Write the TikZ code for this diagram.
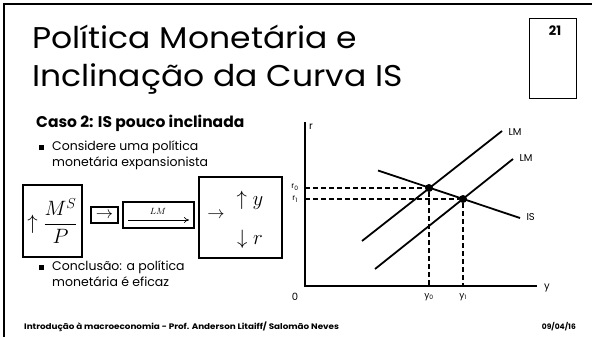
\documentclass[tikz,border=0pt]{standalone}
\usepackage{amsmath}
\usepackage{fontspec}
\setmainfont{Poppins}
\newfontfamily\widefont[FakeStretch=1.1]{Poppins}
\usetikzlibrary{arrows.meta}
\begin{document}
\begin{tikzpicture}[x=1pt,y=-1pt,
  boxed/.style={draw,line width=1.6pt,inner sep=0pt},
  curve/.style={line width=1.8pt},
  guide/.style={dashed,line width=1.2pt,dash pattern=on 5pt off 3pt},
  lab/.style={font=\fontsize{10}{12}\selectfont},
  titl/.style={anchor=base west,font=\widefont\fontsize{30}{34}\selectfont,inner sep=0pt},
  bul/.style={font=\fontsize{12.5}{16}\selectfont,anchor=base west,inner sep=0pt},
  sq/.style={anchor=base west,inner sep=0pt},
  dot/.style={circle,fill,inner sep=0pt,minimum size=8pt}]
\useasboundingbox (0,0) rectangle (592,337);
% slide frame
\draw[line width=2.2pt] (4,337) -- (4,4) -- (592,4);
% title
\node[titl] (title1) at (32,49) {Política Monetária e};
\node[titl] (title2) at (32,87) {Inclinação da Curva IS};
% page number box
\node[draw,line width=0.8pt,minimum width=47pt,minimum height=80pt,anchor=north west,inner sep=0pt] (pg) at (529,18) {};
\node[font=\bfseries\fontsize{13}{15}\selectfont] (pgn) at (555,31) {21};
% left texts
\node[anchor=base west,font=\bfseries\fontsize{15.5}{17}\selectfont,inner sep=0pt] (caso) at (36,128) {Caso 2: IS pouco inclinada};
\node[sq] (b1) at (39,150) {\rule{5pt}{5pt}};
\node[bul] (t1a) at (52,150) {Considere uma política};
\node[bul] (t1b) at (52,166) {monetária expansionista};
\node[sq] (b2) at (39,270) {\rule{5pt}{5pt}};
\node[bul] (t2a) at (52,270) {Conclusão: a política};
\node[bul] (t2b) at (52,286) {monetária é eficaz};
% flow boxes
\node[boxed,minimum width=59pt,minimum height=72pt] (bx1) at (52.5,221) {\fontsize{21}{24}\selectfont$\uparrow\dfrac{M^S}{P}$};
\node[boxed,minimum width=27pt,minimum height=16pt] (bx2) at (104.5,215) {\fontsize{16}{18}\selectfont$\rightarrow$};
\node[boxed,minimum width=71pt,minimum height=26pt] (bx3) at (158.5,215) {};
\coordinate (a3s) at (128,220);
\coordinate (a3e) at (189,220);
\draw[line width=0.7pt,-{To[length=5pt,width=6pt]}] (a3s) -- (a3e);
\node[font=\fontsize{9}{10}\selectfont,inner sep=1pt] (lm3) at (158,211) {$LM$};
\node[boxed,minimum width=83pt,minimum height=81pt] (bx4) at (240.5,217.5) {};
\node[font=\fontsize{18}{20}\selectfont] (ar4) at (216,215) {$\rightarrow$};
\node[font=\fontsize{20}{22}\selectfont] (uy) at (250,200) {$\uparrow y$};
\node[font=\fontsize{20}{22}\selectfont] (dr) at (250,239) {$\downarrow r$};
% graph
\coordinate (O) at (305,286);
\coordinate (Ytop) at (305,122);
\coordinate (Xend) at (537,286);
\draw[line width=1.8pt] (Ytop) -- (O) -- (Xend);
\node[lab] (rl) at (311,127) {r};
\node[lab] (yl) at (547,288) {y};
\node[lab] (zero) at (295,297) {0};
\coordinate (lma) at (362,241);
\coordinate (lmb) at (502,131);
\coordinate (lmc) at (375,269);
\coordinate (lmd) at (513,159);
\coordinate (isa) at (378,170.5);
\coordinate (isb) at (520,218);
\draw[curve] (lma) -- (lmb);
\draw[curve] (lmc) -- (lmd);
\draw[curve] (isa) -- (isb);
\node[lab,anchor=west] (lm1) at (505,132) {LM};
\node[lab,anchor=west] (lm2) at (516,158) {LM};
\node[lab,anchor=west] (isl) at (523,217) {IS};
\node[dot] (e0) at (429,188) {};
\node[dot] (e1) at (463,199) {};
\coordinate (r0a) at (305,188);
\coordinate (r1a) at (305,199);
\coordinate (y0a) at (429,286);
\coordinate (y1a) at (463,286);
\draw[guide] (r0a) -- (e0) -- (y0a);
\draw[guide] (r1a) -- (e1) -- (y1a);
\node[font=\fontsize{8}{9}\selectfont] (r0) at (295,187) {r\textsubscript{0}};
\node[font=\fontsize{8}{9}\selectfont] (r1) at (295,199) {r\textsubscript{1}};
\node[font=\fontsize{9}{10}\selectfont] (y0) at (429,297) {y\textsubscript{0}};
\node[font=\fontsize{9}{10}\selectfont] (y1) at (463,297) {y\textsubscript{1}};
% footer
\node[anchor=base west,font=\widefont\bfseries\fontsize{8}{9}\selectfont,inner sep=0pt] (foot) at (24,329) {Introdução à macroeconomia - Prof. Anderson Litaiff/ Salomão Neves};
\node[anchor=base east,font=\bfseries\fontsize{7.5}{9}\selectfont,inner sep=0pt] (date) at (576,329) {09/04/16};
\end{tikzpicture}
\end{document}
